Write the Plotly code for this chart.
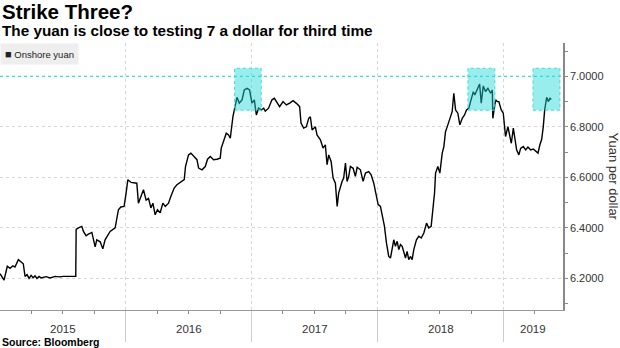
import pandas as pd
import plotly.graph_objects as go

# ---- data ----
# time expressed in years since 2015-01-01
year_offset = [
    0.000, 0.032, 0.058, 0.080, 0.103, 0.119, 0.146, 0.185, 0.199, 0.215, 0.231, 0.247,
    0.263, 0.278, 0.294, 0.310, 0.326, 0.342, 0.366, 0.398, 0.438, 0.477, 0.501, 0.602,
    0.605, 0.623, 0.650, 0.663, 0.684, 0.702, 0.730, 0.756, 0.769, 0.796, 0.817, 0.835,
    0.875, 0.915, 0.941, 0.960, 0.986, 1.002, 1.016, 1.042, 1.087, 1.100, 1.119, 1.140,
    1.161, 1.180, 1.199, 1.215, 1.233, 1.251, 1.273, 1.294, 1.313, 1.339, 1.358, 1.384,
    1.406, 1.426, 1.446, 1.464, 1.474, 1.498, 1.517, 1.543, 1.565, 1.578, 1.605, 1.631,
    1.649, 1.671, 1.697, 1.724, 1.750, 1.758, 1.776, 1.798, 1.816, 1.830, 1.851, 1.870,
    1.883, 1.901, 1.923, 1.941, 1.963, 1.983, 2.002, 2.021, 2.037, 2.055, 2.076, 2.095,
    2.108, 2.134, 2.161, 2.180, 2.201, 2.222, 2.249, 2.275, 2.302, 2.329, 2.360, 2.381,
    2.392, 2.413, 2.434, 2.453, 2.466, 2.480, 2.506, 2.519, 2.546, 2.567, 2.585, 2.599,
    2.612, 2.631, 2.647, 2.665, 2.679, 2.691, 2.718, 2.731, 2.745, 2.758, 2.771, 2.784,
    2.806, 2.824, 2.838, 2.864, 2.885, 2.904, 2.930, 2.949, 2.970, 2.991, 3.005, 3.023,
    3.037, 3.055, 3.071, 3.089, 3.103, 3.116, 3.129, 3.142, 3.156, 3.169, 3.182, 3.196,
    3.208, 3.222, 3.235, 3.248, 3.262, 3.275, 3.288, 3.309, 3.328, 3.347, 3.368, 3.389,
    3.407, 3.426, 3.442, 3.453, 3.461, 3.479, 3.495, 3.514, 3.527, 3.540, 3.554, 3.566,
    3.580, 3.593, 3.606, 3.620, 3.638, 3.654, 3.673, 3.691, 3.707, 3.726, 3.739, 3.761,
    3.773, 3.792, 3.811, 3.824, 3.840, 3.858, 3.877, 3.898, 3.912, 3.916, 3.938, 3.951,
    3.964, 3.983, 3.999, 4.017, 4.036, 4.049, 4.063, 4.079, 4.089, 4.105, 4.123, 4.137,
    4.158, 4.177, 4.195, 4.216, 4.238, 4.256, 4.275, 4.290, 4.304, 4.317, 4.328, 4.344,
    4.357, 4.370, 4.381,
]
yuan = [
    6.219, 6.193, 6.248, 6.240, 6.250, 6.245, 6.274, 6.258, 6.208, 6.215, 6.200, 6.212,
    6.203, 6.210, 6.200, 6.208, 6.202, 6.205, 6.207, 6.202, 6.208, 6.206, 6.208, 6.208,
    6.394, 6.400, 6.406, 6.386, 6.369, 6.375, 6.382, 6.325, 6.353, 6.345, 6.317, 6.353,
    6.386, 6.400, 6.472, 6.483, 6.485, 6.538, 6.591, 6.580, 6.577, 6.498, 6.520, 6.551,
    6.510, 6.517, 6.479, 6.498, 6.452, 6.472, 6.460, 6.498, 6.485, 6.498, 6.525, 6.558,
    6.571, 6.577, 6.584, 6.591, 6.643, 6.689, 6.696, 6.683, 6.670, 6.637, 6.630, 6.643,
    6.672, 6.683, 6.670, 6.672, 6.676, 6.716, 6.742, 6.775, 6.768, 6.755, 6.841, 6.880,
    6.917, 6.894, 6.907, 6.946, 6.953, 6.946, 6.894, 6.907, 6.847, 6.874, 6.867, 6.874,
    6.862, 6.874, 6.907, 6.913, 6.894, 6.880, 6.900, 6.887, 6.894, 6.904, 6.891, 6.880,
    6.815, 6.795, 6.800, 6.834, 6.840, 6.788, 6.800, 6.768, 6.749, 6.716, 6.729, 6.650,
    6.689, 6.663, 6.597, 6.577, 6.485, 6.538, 6.584, 6.597, 6.657, 6.584, 6.604, 6.643,
    6.636, 6.604, 6.640, 6.630, 6.584, 6.617, 6.623, 6.610, 6.577, 6.531, 6.492, 6.485,
    6.445, 6.406, 6.340, 6.287, 6.281, 6.320, 6.353, 6.327, 6.347, 6.314, 6.334, 6.327,
    6.300, 6.281, 6.307, 6.274, 6.287, 6.274, 6.314, 6.353, 6.367, 6.360, 6.380, 6.419,
    6.400, 6.406, 6.485, 6.538, 6.617, 6.643, 6.617, 6.696, 6.722, 6.781, 6.801, 6.820,
    6.834, 6.860, 6.933, 6.867, 6.854, 6.808, 6.834, 6.847, 6.867, 6.874, 6.900, 6.939,
    6.926, 6.946, 6.970, 6.894, 6.962, 6.940, 6.953, 6.933, 6.946, 6.834, 6.907, 6.900,
    6.900, 6.867, 6.854, 6.762, 6.801, 6.768, 6.735, 6.795, 6.768, 6.709, 6.689, 6.715,
    6.722, 6.709, 6.720, 6.709, 6.712, 6.705, 6.696, 6.729, 6.750, 6.801, 6.867, 6.917,
    6.900, 6.913, 6.909,
]

years = [2015, 2016, 2017, 2018, 2019]
year_labels = ["2015", "2016", "2017", "2018", "2019"]
y_ticks = [6.2, 6.4, 6.6, 6.8, 7.0]
y_minor_ticks = [6.1, 6.3, 6.5, 6.7, 6.9, 7.1]
threshold = 7.0

# highlighted episodes (years since 2015-01-01, yuan range)
highlight_start = [1.864, 3.718, 4.235]
highlight_end = [2.076, 3.932, 4.449]
highlight_low = [6.866, 6.866, 6.866]
highlight_high = [7.032, 7.032, 7.032]

series_name = "Onshore yuan"
title = "Strike Three?"
subtitle = "The yuan is close to testing 7 a dollar for third time"
source = "Source: Bloomberg"
y_title = "Yuan per dollar"

# ---- helpers ----
origin = pd.Timestamp("2015-01-01")


def to_date(off):
    return origin + pd.to_timedelta(off * 365.25, unit="D")


dates = [to_date(o) for o in year_offset]
x_start = pd.Timestamp("2015-01-01")
x_end = pd.Timestamp("2019-06-23")

FONT = "Liberation Sans, Arial, sans-serif"
CYAN = "#3fdcdc"

fig = go.Figure()
fig.add_trace(go.Scatter(
    x=dates, y=yuan, mode="lines", name=series_name,
    line=dict(color="#000000", width=1.4), showlegend=False,
    hoverinfo="x+y",
))

shapes = []
# threshold line at 7.0
shapes.append(dict(type="line", xref="paper", x0=0, x1=1, yref="y",
                   y0=threshold, y1=threshold,
                   line=dict(color=CYAN, width=1.3, dash="dot"), layer="above"))
for s, e, lo, hi in zip(highlight_start, highlight_end, highlight_low, highlight_high):
    shapes.append(dict(type="rect", xref="x", yref="y",
                       x0=to_date(s), x1=to_date(e), y0=lo, y1=hi,
                       fillcolor="rgba(30,214,214,0.45)",
                       line=dict(color=CYAN, width=1, dash="dot"), layer="above"))

annotations = [
    dict(text="<b>" + title + "</b>", xref="paper", yref="paper", x=0, y=1.118,
         xanchor="left", yanchor="middle", showarrow=False,
         font=dict(family=FONT, size=20.5, color="#000")),
    dict(text="<b>" + subtitle + "</b>", xref="paper", yref="paper", x=0, y=1.045,
         xanchor="left", yanchor="middle", showarrow=False,
         font=dict(family=FONT, size=15.3, color="#000")),
    dict(text="<b>" + source + "</b>", xref="paper", yref="paper", x=0, y=-0.118,
         xanchor="left", yanchor="middle", showarrow=False,
         font=dict(family=FONT, size=10.5, color="#000")),
    dict(text=y_title, xref="paper", yref="paper", x=1, xshift=50, y=0.5,
         xanchor="center", yanchor="middle", textangle=90, showarrow=False,
         font=dict(family=FONT, size=13, color="#333")),
    dict(text="<span style='font-size:11px'>■</span> " + series_name,
         xref="paper", yref="paper", x=0, y=1, xanchor="left", yanchor="top",
         showarrow=False, bgcolor="#eeeeee", borderpad=4,
         font=dict(family=FONT, size=9.5, color="#222")),
]
# year labels centred in the visible part of each year
for yr, lab in zip(years, year_labels):
    a = max(pd.Timestamp(f"{yr}-01-01"), x_start)
    b = min(pd.Timestamp(f"{yr + 1}-01-01"), x_end)
    mid = a + (b - a) / 2
    annotations.append(dict(text=lab, xref="x", yref="paper", x=mid, y=-0.072,
                            xanchor="center", yanchor="middle", showarrow=False,
                            font=dict(family=FONT, size=11.5, color="#333")))

year_bounds = [pd.Timestamp(f"{yr}-01-01") for yr in years[1:]]
quarters = [pd.Timestamp(f"{yr}-{m:02d}-01") for yr in years for m in (4, 7, 10)
            if pd.Timestamp(f"{yr}-{m:02d}-01") < x_end]

fig.update_layout(
    width=620, height=348,
    margin=dict(l=0, r=57, t=43, b=38),
    paper_bgcolor="white", plot_bgcolor="white",
    font=dict(family=FONT, size=11, color="#333"),
    shapes=shapes, annotations=annotations,
    showlegend=False,
    xaxis=dict(
        type="date", range=[x_start, x_end],
        tickvals=year_bounds, showticklabels=False,
        ticks="outside", ticklen=31, tickcolor="#cccccc", tickwidth=1,
        showgrid=True, gridcolor="#d6d6d6", griddash="dot", gridwidth=1,
        showline=True, linecolor="#999999", linewidth=1,
        zeroline=False,
        minor=dict(tickvals=quarters, ticks="outside", ticklen=3,
                   tickcolor="#888888", showgrid=False),
    ),
    yaxis=dict(
        side="right", range=[6.075, 7.132],
        tickvals=y_ticks, tickformat=".4f",
        ticks="outside", ticklen=3, tickcolor="#888888",
        showgrid=True, gridcolor="#d6d6d6", griddash="dot", gridwidth=1,
        showline=True, linecolor="#888888", linewidth=1.5,
        zeroline=False,
        tickfont=dict(family=FONT, size=11, color="#333"),
        minor=dict(tickvals=y_minor_ticks, ticks="outside", ticklen=3,
                   tickcolor="#888888", showgrid=False),
    ),
)

fig.write_html("out.html")
